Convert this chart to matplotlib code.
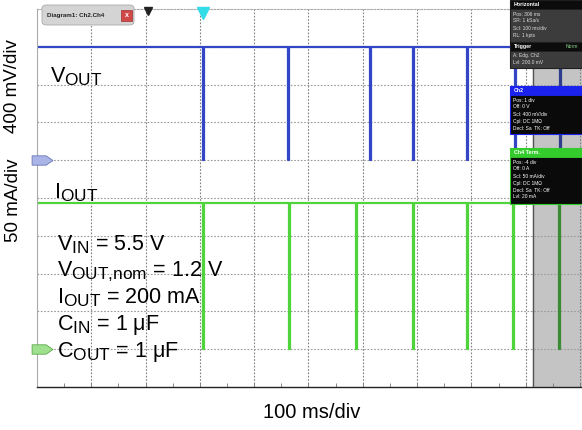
import numpy as np
import matplotlib
matplotlib.use("Agg")
import matplotlib.pyplot as plt
import matplotlib._mathtext as mtext
from matplotlib.patches import Rectangle, FancyBboxPatch
from matplotlib.path import Path

plt.rcParams['font.family'] = ['Liberation Sans', 'DejaVu Sans']
plt.rcParams['mathtext.fontset'] = 'custom'
plt.rcParams['mathtext.rm'] = 'Liberation Sans'
mtext.SHRINK_FACTOR = 0.8   # the scope labels use large subscripts

# scope settings
t_div = 100.0          # ms/div
v_div = 0.4            # V/div
i_div = 50.0           # mA/div
v_ground = 6.0         # div position of Ch2 ground
i_ground = 1.0         # div position of Ch4 ground
t_end = 1003.7         # ms shown

# traces
vout_high = 1.2        # V
iout_high = 194.0      # mA
vout_drops = [306, 462, 613, 692, 792, 880, 963]   # ms
iout_drops = [306, 464, 587, 692, 792, 877, 961]   # ms
drop_width = 1.5       # ms
gray_start = 913       # ms, start of the dimmed history area

W, H = 582, 430


def fx(px):
    return px / W


def fy(py):
    return 1 - py / H


def step_trace(drops, high):
    t = [0.0]
    y = [high]
    for d in drops:
        t += [d, d, d + drop_width, d + drop_width]
        y += [high, 0.0, 0.0, high]
    t.append(t_end)
    y.append(high)
    return np.array(t), np.array(y)


fig = plt.figure(figsize=(W / 100, H / 100), dpi=100)
ax = fig.add_axes([fx(37), 1 - 387 / H, fx(545), 378 / H])
ax.set_xlim(0, t_end)
ax.set_ylim(0, 10)

# grid
for k in range(1, 11):
    ax.axvline(k * t_div, color='#808080', lw=0.8, ls=(0, (1.5, 1.5)), zorder=1)
for k in range(1, 10):
    ax.axhline(k, color='#999999', lw=0.8, ls=(0, (1.5, 1.5)), zorder=1)

ax.set_xticks(np.arange(0, t_end, t_div / 2))
ax.set_yticks([])
ax.tick_params(axis='x', direction='in', length=3, width=0.6, color='#777777',
               labelbottom=False)
for s in ['left', 'top']:
    ax.spines[s].set_color('#aaaaaa')
    ax.spines[s].set_linewidth(0.8)
ax.spines['top'].set_linestyle((0, (1.5, 1.5)))
ax.spines['right'].set_visible(False)
ax.spines['bottom'].set_color('#222222')
ax.spines['bottom'].set_linewidth(1.0)

# gray history region
ax.axvspan(gray_start, t_end, color='#c4c4c4', zorder=0.5)
ax.axvline(gray_start, color='#555555', lw=1.0, zorder=3)

clip_live = Rectangle((0, 0), gray_start, 10, transform=ax.transData)
clip_old = Rectangle((gray_start, 0), t_end - gray_start, 10, transform=ax.transData)

tv, yv = step_trace(vout_drops, vout_high)
ti, yi = step_trace(iout_drops, iout_high)
lv, = ax.plot(tv, v_ground + yv / v_div, color='#3346c8', lw=1.6, zorder=2)
lv.set_clip_path(clip_live)
lv2, = ax.plot(tv, v_ground + yv / v_div, color='#2e3d8c', lw=1.6, zorder=2)
lv2.set_clip_path(clip_old)
li, = ax.plot(ti, i_ground + yi / i_div, color='#4fd43c', lw=1.6, zorder=2)
li.set_clip_path(clip_live)
li2, = ax.plot(ti, i_ground + yi / i_div, color='#3a8c34', lw=1.6, zorder=2)
li2.set_clip_path(clip_old)

# ground markers
tag = Path([(-1, -0.45), (0.35, -0.45), (1, 0), (0.35, 0.45), (-1, 0.45), (-1, -0.45)],
           [Path.MOVETO, Path.LINETO, Path.LINETO, Path.LINETO, Path.LINETO, Path.CLOSEPOLY])
ax.plot([10], [v_ground], marker=tag, ms=15, mfc='#aab4e6', mec='#6a78b8', mew=0.6,
        clip_on=False, zorder=4)
ax.plot([10], [i_ground], marker=tag, ms=15, mfc='#9fe08f', mec='#5aa84a', mew=0.6,
        clip_on=False, zorder=4)

# trigger / position markers on top
ax.plot([204], [9.95], marker='v', ms=6, color='#222222', clip_on=False, zorder=4)
ax.plot([vout_drops[0]], [9.9], marker='v', ms=8, color='#33dde8', clip_on=False, zorder=4)

# labels
big = 15.5
fig.text(fx(50), fy(82), r'V$_{\mathregular{OUT}}$', fontsize=big, va='baseline')
fig.text(fx(54), fy(198), r'I$_{\mathregular{OUT}}$', fontsize=big, va='baseline')
params = [
    r'V$_{\mathregular{IN}}$ = 5.5 V',
    r'V$_{\mathregular{OUT{,}nom}}$ = 1.2 V',
    r'I$_{\mathregular{OUT}}$ = 200 mA',
    r'C$_{\mathregular{IN}}$ = 1 $\mathregular{\mu}$F',
    r'C$_{\mathregular{OUT}}$ = 1 $\mathregular{\mu}$F',
]
for k, p in enumerate(params):
    fig.text(fx(57), fy(250 + k * 26.7), p, fontsize=big, va='baseline')

fig.text(fx(13), fy(86), '400 mV/div', rotation=90, fontsize=13.5, ha='center', va='center')
fig.text(fx(13), fy(200), '50 mA/div', rotation=90, fontsize=13.5, ha='center', va='center')
fig.text(fx(312), fy(412), '100 ms/div', fontsize=14.5, ha='center', va='center')

# diagram tab
fig.patches.append(FancyBboxPatch((fx(42), fy(25)), fx(92), 20 / H,
                                  boxstyle='round,pad=0,rounding_size=0.008',
                                  transform=fig.transFigure, fc='#d4d4d4', ec='#aaaaaa',
                                  lw=0.6, zorder=5))
fig.text(fx(47), fy(15), 'Diagram1: Ch2.Ch4', fontsize=4.5, fontweight='bold',
         color='#222222', va='center', zorder=6)
fig.patches.append(Rectangle((fx(121), fy(21)), fx(11), 11 / H, transform=fig.transFigure,
                             fc='#d04848', ec='#a03030', lw=0.5, zorder=6))
fig.text(fx(126.5), fy(15.5), 'x', fontsize=5, color='white', ha='center', va='center',
         fontweight='bold', zorder=7)


def panel(x0, y0, x1, y1, header, head_fc, body_fc, edge, lines, txt_color):
    fig.patches.append(Rectangle((fx(x0), fy(y1)), fx(x1 - x0), (y1 - y0) / H,
                                 transform=fig.transFigure, fc=body_fc, ec=edge, lw=0.8,
                                 zorder=8))
    fig.patches.append(Rectangle((fx(x0), fy(y0 + 9)), fx(x1 - x0), 9 / H,
                                 transform=fig.transFigure, fc=head_fc, ec=edge, lw=0.6,
                                 zorder=9))
    fig.text(fx(x0 + 4), fy(y0 + 4.8), header, fontsize=3.8, color='white', va='center',
             zorder=10, fontweight='bold')
    for k, s in enumerate(lines):
        fig.text(fx(x0 + 3), fy(y0 + 14 + k * 7), s, fontsize=3.5, color=txt_color,
                 va='center', zorder=10)


panel(510, 0, 582, 42, 'Horizontal', '#0c0c0c', '#3c3c3c', '#202020',
      ['Pos: 306 ms', 'SR: 1 kSa/s', 'Scl: 100 ms/div', 'RL: 1 kpts'], '#dddddd')
panel(510, 42, 582, 68, 'Trigger', '#0c0c0c', '#3c3c3c', '#202020',
      ['A: Edg. Ch2', 'Lvl: 200.0 mV'], '#dddddd')
fig.text(fx(578), fy(46.8), 'Norm', fontsize=3.6, color='#8fd08f', ha='right',
         va='center', zorder=10)
panel(510, 86, 582, 134, 'Ch2', '#1c22ee', '#0a0a0a', '#1c22ee',
      ['Pos: 1 div', 'Off: 0 V', 'Scl: 400 mV/div', 'Cpl: DC 1M\u03a9',
       'Decl: Sa  TK: Off'], '#ffffff')
panel(510, 148, 582, 204, 'Ch4 Term.', '#34cc2c', '#0a0a0a', '#34cc2c',
      ['Pos: -4 div', 'Off: 0 A', 'Scl: 50 mA/div', 'Cpl: DC 1M\u03a9',
       'Decl: Sa  TK: Off', 'Lvl: 20 mA'], '#ffffff')

fig.savefig('out.png', dpi=100)
